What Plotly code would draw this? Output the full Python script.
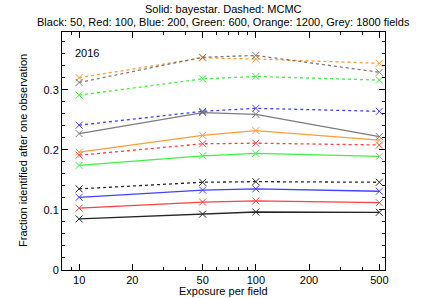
import plotly.graph_objects as go

exposure = [10, 50, 100, 500]

# Solid: bayestar
bayestar = {
    "Black": [0.085, 0.093, 0.0965, 0.096],
    "Red": [0.103, 0.113, 0.115, 0.112],
    "Blue": [0.121, 0.133, 0.135, 0.131],
    "Green": [0.174, 0.190, 0.194, 0.189],
    "Orange": [0.196, 0.224, 0.232, 0.216],
    "Grey": [0.227, 0.262, 0.259, 0.222],
}
# Dashed: MCMC
mcmc = {
    "Black": [0.135, 0.146, 0.147, 0.146],
    "Red": [0.191, 0.210, 0.211, 0.208],
    "Blue": [0.241, 0.264, 0.269, 0.264],
    "Green": [0.291, 0.318, 0.322, 0.316],
    "Orange": [0.320, 0.353, 0.351, 0.344],
    "Grey": [0.312, 0.354, 0.357, 0.329],
}
colors = {
    "Black": "#000000",
    "Red": "#ff2020",
    "Blue": "#2020ff",
    "Green": "#20ee20",
    "Orange": "#ff8c1a",
    "Grey": "#666666",
}

x_ticks = [10, 20, 50, 100, 200, 500]
x_minor = [9, 30, 40, 60, 70, 80, 90, 300, 400]
y_ticks = [0, 0.1, 0.2, 0.3]
y_minor = [round(0.02 * i, 2) for i in range(20)]

FONT = "Liberation Sans, Arial, sans-serif"

fig = go.Figure()
for name in ["Black", "Red", "Blue", "Green", "Orange", "Grey"]:
    for data, dash in ((bayestar, "solid"), (mcmc, "dot")):
        fig.add_trace(go.Scatter(
            x=exposure, y=data[name], mode="lines+markers",
            line=dict(color=colors[name], width=1.3, dash=dash),
            marker=dict(symbol="x-thin", size=7,
                        line=dict(color=colors[name], width=1)),
            opacity=0.85, showlegend=False,
        ))

axis_common = dict(
    showline=True, linecolor="black", linewidth=1, mirror="ticks",
    ticks="inside", ticklen=6, tickcolor="black", showgrid=False,
    zeroline=False, automargin=False,
    tickfont=dict(family=FONT, size=11, color="black"),
)

fig.update_xaxes(
    type="log", range=[0.903, 2.731], tickmode="array",
    tickvals=x_ticks, ticktext=[str(v) for v in x_ticks],
    minor=dict(tickmode="array", tickvals=x_minor, ticks="inside",
               ticklen=3, tickcolor="black"),
    **axis_common,
)
fig.update_yaxes(
    range=[0, 0.396], tickmode="array", tickvals=y_ticks,
    ticktext=["0", "0.1", "0.2", "0.3"],
    minor=dict(tickmode="array", tickvals=y_minor, ticks="inside",
               ticklen=3, tickcolor="black"),
    **axis_common,
)

txt = dict(family=FONT, size=11, color="black")
fig.add_annotation(text="Solid: bayestar. Dashed: MCMC", xref="paper", yref="paper",
                   x=0.5, y=1.0, yshift=23, yanchor="middle", showarrow=False, font=txt)
fig.add_annotation(text="Black: 50, Red: 100, Blue: 200, Green: 600, Orange: 1200, Grey: 1800 fields",
                   xref="paper", yref="paper", x=0.5, y=1.0, yshift=10, yanchor="middle",
                   showarrow=False, font=txt)
fig.add_annotation(text="2016", xref="paper", yref="paper", x=0.035, y=0.945,
                   xanchor="left", showarrow=False, font=txt)
fig.add_annotation(text="Exposure per field", xref="paper", yref="paper",
                   x=0.5, y=0, yshift=-14, yanchor="top", borderpad=0,
                   showarrow=False, font=txt)
fig.add_annotation(text="Fraction identified after one observation", xref="paper", yref="paper",
                   x=0, y=0.5, xshift=-47, textangle=-90, showarrow=False, font=txt)

fig.update_layout(
    width=442, height=298,
    margin=dict(l=62, r=57, t=32, b=28),
    paper_bgcolor="white", plot_bgcolor="white",
    font=txt,
)

fig.write_html("out.html", config={"displayModeBar": False},
               post_script="document.body.style.margin='0';")
